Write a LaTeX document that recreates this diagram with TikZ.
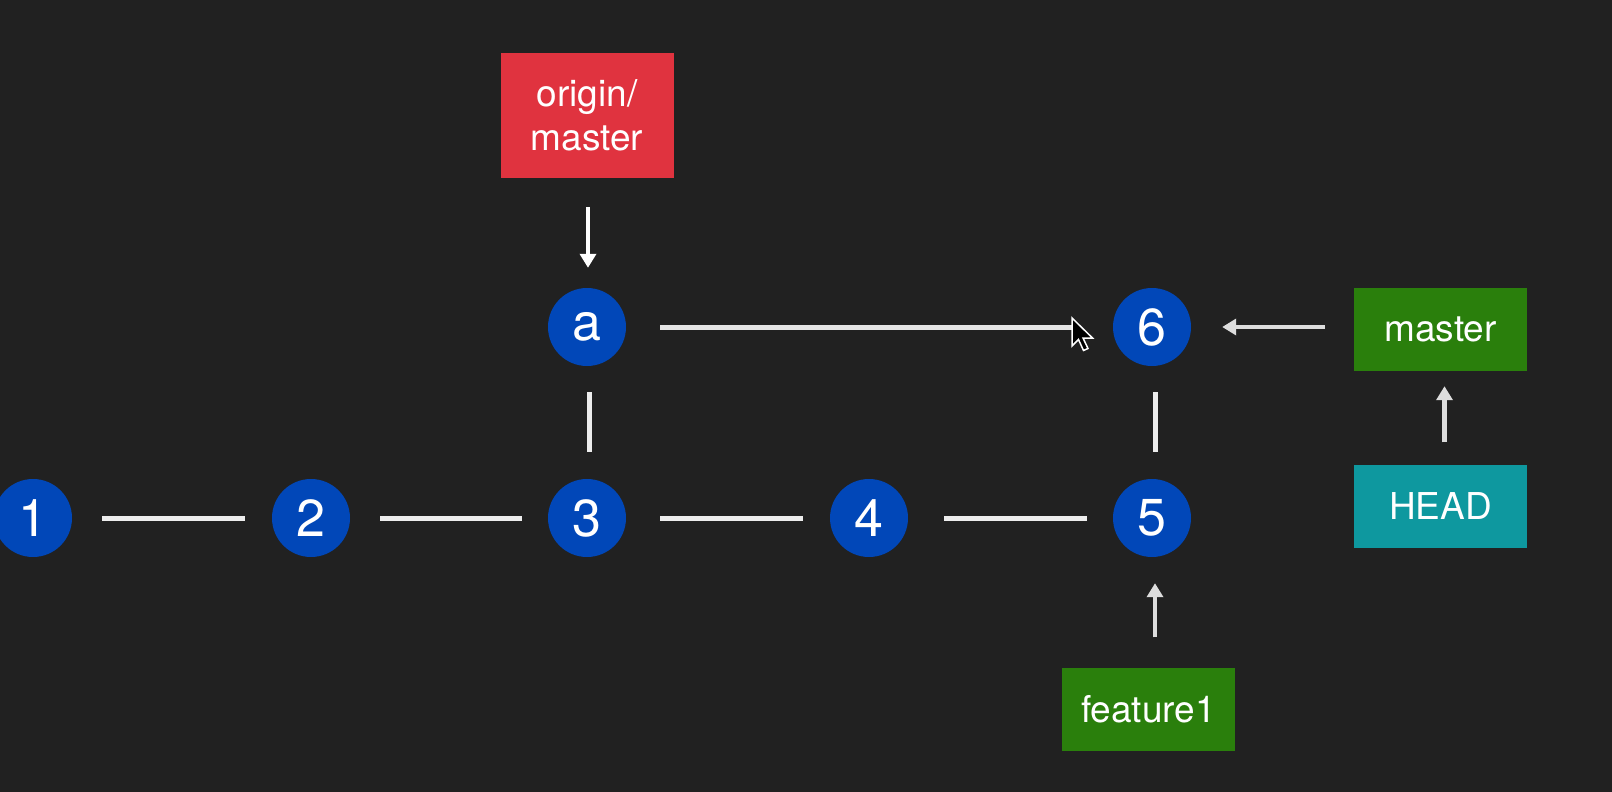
\documentclass[tikz,border=0pt]{standalone}
\usepackage{fontspec}
\setmainfont{TeX Gyre Heros}
\usetikzlibrary{arrows.meta,calc}
\definecolor{bg}{HTML}{212121}
\definecolor{cblue}{HTML}{0147B8}
\definecolor{cred}{HTML}{E0333F}
\definecolor{cgreen}{HTML}{2A7F0C}
\definecolor{cteal}{HTML}{0E989F}
\definecolor{lgray}{HTML}{DDDDDD}
\tikzset{
  commit/.style={circle, fill=cblue, minimum size=78pt, inner sep=0pt, text=white, font=\fontsize{52}{60}\selectfont},
  refbox/.style={rectangle, minimum width=173pt, minimum height=83pt, inner sep=0pt, text=white, font=\fontsize{37}{44}\selectfont, align=center},
  link/.style={draw=white!93!black, line width=5pt},
  ptr/.style={draw=lgray, line width=4.5pt, -{Triangle[length=14pt,width=16pt]}},
}
\begin{document}
\begin{tikzpicture}[x=1pt,y=-1pt]
\fill[bg] (0,0) rectangle (1612,792);
\useasboundingbox (0,0) rectangle (1612,792);
% commits
\node[commit] (c1) at (33,518) {1};
\node[commit] (c2) at (311,518) {2};
\node[commit] (c3) at (587,518) {3};
\node[commit] (c4) at (869,518) {4};
\node[commit] (c5) at (1152,518) {5};
\node[commit] (ca) at (587,327) {a};
\node[commit] (c6) at (1152,327) {6};
% refs
\node[refbox, fill=cred, minimum height=125pt] (om) at (587,115.5) {origin/\\master};
\node[refbox, fill=cgreen] (master) at (1440.5,329.5) {master};
\node[refbox, fill=cteal] (head) at (1440.5,506) {HEAD};
\node[refbox, fill=cgreen] (feat) at (1148.5,709) {feature1};
% links
\draw[link] ($(c1.east)+(30,0)$) -- ($(c2.west)+(-27,0)$);
\draw[link] ($(c2.east)+(30,0)$) -- ($(c3.west)+(-26,0)$);
\draw[link] ($(c3.east)+(34,0)$) -- ($(c4.west)+(-27,0)$);
\draw[link] ($(c4.east)+(36,0)$) -- ($(c5.west)+(-26,0)$);
\draw[link] ($(ca.south)+(2,26)$) -- ($(c3.north)+(2,-27)$);
\draw[link] ($(c6.south)+(3,26)$) -- ($(c5.north)+(3,-27)$);
\coordinate (cur) at (1078,327);
\draw[link, draw=white!90!black] ($(ca.east)+(34,0)$) -- (cur);
% pointers
\draw[ptr, draw=white] ($(om.south)+(1,29)$) -- ($(ca.north)+(1,-20)$);
\draw[ptr] ($(master.west)+(-29,-2.5)$) -- ($(c6.east)+(31,0)$);
\draw[ptr] ($(head.north)+(4,-22)$) -- ($(master.south)+(4,15)$);
\draw[ptr] ($(feat.north)+(6.5,-30)$) -- ($(c5.south)+(3,26)$);
% mouse cursor
\coordinate (tip) at (1072,318);
\draw[fill=black, draw=white, line width=1.5pt, line join=miter]
  (tip) -- ++(0,28) -- ++(6.5,-6.5) -- ++(5,11) -- ++(4.5,-2) -- ++(-5,-10.5) -- ++(9.5,0) -- cycle;
\end{tikzpicture}
\end{document}
